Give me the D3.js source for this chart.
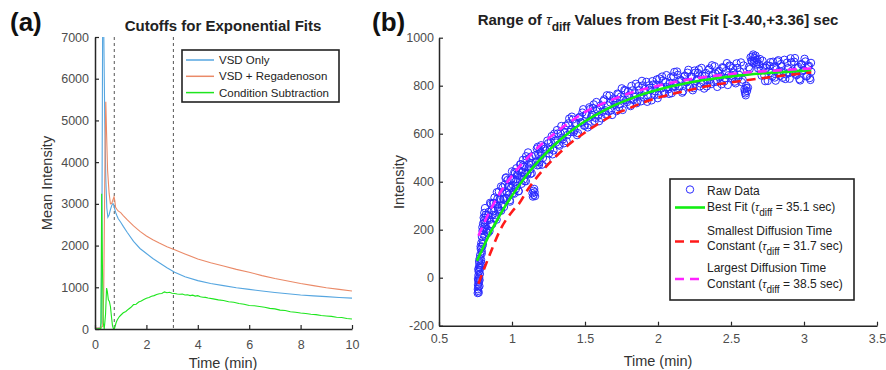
<!DOCTYPE html>
<html>
<head>
<meta charset="utf-8">
<script src="https://cdn.jsdelivr.net/npm/d3@7"></script>
<style>
  body { margin: 0; background: #fff; }
  svg { display: block; font-family: Arial, "Liberation Sans", Helvetica, sans-serif; }
</style>
</head>
<body>
<svg id="chart" width="886" height="370"></svg>
<script>
// ---- panel (a) data: [time (min), mean intensity] ----
var vsdOnly = [
  [0,20],[0.1,15],[0.2,30],[0.24,150],[0.27,2500],[0.3,7800],[0.34,7200],[0.38,5000],[0.42,3600],
  [0.46,2900],[0.5,2680],[0.55,2740],[0.6,2860],[0.65,2960],[0.7,3010],[0.73,2980],[0.76,2900],
  [0.8,2800],[0.85,2720],[0.9,2650],[1.0,2560],[1.1,2460],[1.25,2320],[1.5,2100],[1.75,1930],
  [2.0,1810],[2.25,1690],[2.5,1590],[2.8,1470],[3.1,1360],[3.5,1250],[4.0,1160],[4.5,1090],
  [5.0,1040],[5.5,990],[6.0,950],[6.5,910],[7.0,875],[7.5,845],[8.0,815],[8.5,795],[9.0,775],
  [9.5,755],[10,740]
];
var vsdRegadenoson = [
  [0,25],[0.1,20],[0.2,30],[0.3,60],[0.34,900],[0.39,4200],[0.42,5450],[0.45,4700],[0.49,3800],
  [0.55,3250],[0.6,3000],[0.65,3010],[0.7,3100],[0.74,3170],[0.77,3080],[0.8,2920],[0.85,2870],
  [0.9,2830],[1.0,2790],[1.1,2720],[1.25,2620],[1.5,2470],[1.75,2340],[2.0,2230],[2.25,2140],
  [2.5,2060],[2.8,1970],[3.1,1900],[3.5,1800],[4.0,1680],[4.5,1590],[5.0,1510],[5.5,1430],
  [6.0,1360],[6.5,1280],[7.0,1210],[7.5,1150],[8.0,1090],[8.5,1040],[9.0,990],[9.5,950],[10,910]
];
var conditionSub = [
  [0,0],[0.1,5],[0.2,10],[0.23,0],[0.26,3240],[0.29,1500],[0.32,150],[0.36,0],[0.41,350],
  [0.45,980],[0.48,900],[0.52,700],[0.56,660],[0.6,540],[0.64,300],[0.68,80],[0.72,0],[0.75,0],
  [0.78,60],[0.82,150],[0.86,210],[0.9,250],[0.95,300],[1.0,330],[1.1,390],[1.2,420],[1.3,475],
  [1.4,520],[1.5,585],[1.6,595],[1.7,645],[1.8,670],[1.9,705],[2.0,735],[2.1,755],[2.2,785],
  [2.3,800],[2.4,825],[2.5,845],[2.6,850],[2.7,890],[2.8,868],[2.9,882],[3.0,858],[3.1,852],
  [3.2,840],[3.3,832],[3.4,838],[3.5,815],[3.6,822],[3.7,800],[3.8,812],[3.9,788],[4.0,800],
  [4.1,772],[4.2,762],[4.3,758],[4.4,742],[4.6,722],[4.8,698],[5.0,684],[5.2,652],[5.4,642],
  [5.6,612],[5.8,594],[6.0,562],[6.2,556],[6.4,538],[6.6,522],[6.8,494],[7.0,482],[7.2,452],
  [7.4,444],[7.6,412],[7.8,402],[8.0,384],[8.2,372],[8.4,352],[8.6,344],[8.8,322],[9.0,312],
  [9.2,302],[9.4,282],[9.6,274],[9.8,252],[10,240]
];
var cutoffs = [0.75, 3.05];
var seriesA = [
  { name: "VSD Only", data: vsdOnly, color: "#56a6e0" },
  { name: "VSD + Regadenoson", data: vsdRegadenoson, color: "#ea8a68" },
  { name: "Condition Subtraction", data: conditionSub, color: "#1ee61e" }
];
var xTicksA = [0, 2, 4, 6, 8, 10];
var yTicksA = [0, 1000, 2000, 3000, 4000, 5000, 6000, 7000];

// ---- panel (b) data: [time (min), intensity] ----
var rawData = [
  [0.765,-64],[0.766,-48],[0.767,-30],[0.768,-55],[0.769,-12],[0.770,10],[0.771,-40],[0.772,25],[0.773,-20],[0.774,45],
  [0.775,0],[0.776,60],[0.777,-35],[0.778,30],[0.779,80],[0.780,15],[0.782,95],[0.784,50],[0.786,120],[0.788,75],
  [0.790,145],[0.792,100],[0.794,170],[0.796,130],[0.798,195],[0.800,155],[0.802,225],[0.804,180],[0.806,250],[0.808,205],
  [0.810,270],[0.812,230],[0.815,290],[0.818,250],
  [0.767,-5],[0.769,35],[0.772,-62],[0.775,70],[0.778,-10],[0.781,40],[0.785,130],[0.789,60],[0.793,110],[0.797,210],
  [0.801,140],[0.805,195],[0.809,240],[0.813,175],[0.817,220],
  [0.820,262],[0.825,203],[0.830,239],[0.835,186],[0.840,274],[0.845,241],[0.850,312],[0.855,222],[0.860,281],[0.865,223],
  [0.870,310],[0.875,277],[0.880,334],[0.885,261],[0.890,307],[0.895,242],[0.900,328],[0.905,293],[0.910,359],[0.915,278],
  [0.920,326],[0.925,380],[0.930,299],[0.935,354],[0.940,328],[0.945,295],[0.950,387],[0.955,333],[0.960,418],[0.965,356],
  [0.970,407],[0.975,345],[0.980,379],[0.985,323],[0.990,408],[0.995,374],[1.000,443],[1.005,352],[1.010,409],[1.015,350],
  [1.020,435],[1.025,401],[1.030,456],[1.035,382],[1.040,426],[1.045,360],[1.050,444],[1.055,409],[1.060,473],[1.065,391],
  [1.070,439],[1.075,491],[1.080,409],[1.085,462],[1.090,436],[1.095,402],[1.100,492],[1.105,437],[1.110,522],[1.115,459],
  [1.120,499],[1.125,452],[1.130,478],[1.135,435],[1.140,352],[1.143,338],[1.146,362],[1.149,345],[1.152,370],[1.155,356],
  [1.158,340],[1.160,510],[1.165,484],[1.170,538],[1.175,468],[1.180,515],[1.185,470],[1.190,535],[1.195,509],[1.200,552],
  [0.826,192],[0.836,260],[0.846,194],[0.856,308],[0.866,261],[0.876,312],[0.886,248],[0.896,356],[0.906,285],[0.916,327],
  [0.926,279],[0.936,376],[0.946,329],[0.956,415],[0.966,331],[0.976,382],[0.986,317],[0.996,410],[1.006,386],[1.016,440],
  [1.026,369],[1.036,431],[1.046,361],[1.056,472],[1.066,422],[1.076,469],[1.086,402],[1.096,506],[1.106,433],[1.116,472],
  [1.126,432],[1.136,506],[1.166,480],[1.176,545],[1.186,481],[1.196,522],
  [1.212,499],[1.224,537],[1.236,490],[1.248,560],[1.260,536],[1.272,590],[1.284,530],[1.296,571],[1.308,615],[1.320,555],
  [1.332,601],[1.344,584],[1.356,560],[1.368,633],[1.380,595],[1.392,663],[1.404,617],[1.416,659],[1.428,614],[1.440,643],
  [1.452,602],[1.464,670],[1.476,646],[1.488,702],[1.500,634],[1.512,679],[1.524,636],[1.536,703],[1.548,678],[1.560,722],
  [1.572,666],[1.584,701],[1.596,652],[1.608,718],[1.620,692],[1.632,743],[1.644,680],[1.656,718],[1.668,759],[1.680,697],
  [1.692,739],[1.704,720],[1.716,694],[1.728,764],[1.740,723],[1.752,789],[1.764,741],[1.776,780],[1.788,732],[1.800,758],
  [1.812,715],[1.824,780],[1.836,754],[1.848,808],[1.860,737],[1.872,781],[1.884,735],[1.896,801],[1.908,774],[1.920,816],
  [1.932,758],[1.944,791],[1.956,739],[1.968,805],[1.980,777],[1.992,826],[2.004,762],[2.016,798],[2.028,838],[2.040,774],
  [2.052,815],[2.064,794],[2.076,766],[2.088,835],[2.100,793],[2.112,857],[2.124,807],[2.136,845],[2.148,797],[2.160,821],
  [2.172,777],[2.184,841],[2.196,814],[2.208,866],[2.220,794],[2.232,837],[2.244,790],[2.256,854],[2.268,827],[2.280,868],
  [2.292,809],[2.304,841],[2.316,788],[2.328,853],[2.340,824],[2.352,872],[2.364,807],[2.376,842],[2.388,881],[2.400,816],
  [2.412,856],[2.424,834],[2.436,806],[2.448,874],[2.460,831],[2.472,894],[2.484,844],[2.496,881],[2.508,831],[2.520,855],
  [2.532,810],[2.544,874],[2.556,845],[2.568,897],[2.580,825],[2.592,785],[2.598,768],[2.604,800],[2.610,778],[2.616,792],
  [2.628,869],[2.640,905],[2.648,922],[2.656,895],[2.664,915],[2.672,888],[2.680,908],[2.692,889],[2.704,864],[2.716,904],
  [2.728,843],[2.740,874],[2.752,820],[2.764,883],[2.776,853],[2.788,900],[2.800,834],[2.812,868],[2.824,906],[2.836,841],
  [2.848,880],[2.860,857],[2.872,828],[2.884,896],[2.896,852],[2.908,914],[2.920,863],[2.932,900],[2.944,850],[2.956,873],
  [2.968,827],[2.980,890],[2.992,861],[3.004,912],[3.016,839],[3.028,880],[3.040,832],[3.048,895],[3.050,858],
  [1.206,471],[1.218,545],[1.230,529],[1.242,571],[1.254,518],[1.266,566],[1.278,514],[1.290,600],[1.302,563],[1.314,601],
  [1.326,550],[1.338,632],[1.350,577],[1.362,607],[1.374,569],[1.386,643],[1.398,607],[1.410,671],[1.422,606],[1.434,645],
  [1.446,594],[1.458,666],[1.470,648],[1.482,688],[1.494,633],[1.506,680],[1.518,626],[1.530,710],[1.542,670],[1.554,707],
  [1.566,653],[1.578,732],[1.590,675],[1.602,705],[1.614,664],[1.626,736],[1.638,698],[1.650,760],[1.662,693],[1.674,730],
  [1.686,678],[1.698,747],[1.710,728],[1.722,767],[1.734,710],[1.746,755],[1.758,699],[1.770,782],[1.782,741],[1.794,776],
  [1.806,721],[1.818,799],[1.830,741],[1.842,768],[1.854,727],[1.866,798],[1.878,758],[1.890,820],[1.902,751],[1.914,787],
  [1.926,733],[1.938,801],[1.950,781],[1.962,819],[1.974,761],[1.986,805],[1.998,748],[2.010,830],[2.022,788],[2.034,822],
  [2.046,767],[2.058,844],[2.070,785],[2.082,811],[2.094,769],[2.106,839],[2.118,798],[2.130,859],[2.142,790],[2.154,825],
  [2.166,771],[2.178,838],[2.190,817],[2.202,854],[2.214,796],[2.226,839],[2.238,781],[2.250,863],[2.262,820],[2.274,853],
  [2.286,797],[2.298,874],[2.310,814],[2.322,840],[2.334,797],[2.346,866],[2.358,825],[2.370,885],[2.382,815],[2.394,850],
  [2.406,795],[2.418,862],[2.430,840],[2.442,877],[2.454,818],[2.466,861],[2.478,803],[2.490,884],[2.502,841],[2.514,874],
  [2.526,817],[2.538,893],[2.550,833],[2.562,859],[2.574,815],[2.586,884],[2.595,775],[2.601,760],[2.607,790],[2.622,877],
  [2.634,918],[2.644,900],[2.652,930],[2.660,905],[2.668,925],[2.676,897],[2.686,872],[2.698,911],[2.710,842],[2.722,876],
  [2.734,819],[2.746,885],[2.758,862],[2.770,898],[2.782,838],[2.794,880],[2.806,821],[2.818,901],[2.830,857],[2.842,890],
  [2.854,833],[2.866,908],[2.878,847],[2.890,873],[2.902,829],[2.914,897],[2.926,856],[2.938,915],[2.950,844],[2.962,878],
  [2.974,822],[2.986,888],[2.998,865],[3.010,901],[3.022,841],[3.034,883],[3.044,824]
];
var bestFit = [
  [0.76,70],[0.8,123],[0.85,186],[0.9,242],[0.95,295],[1.0,342],[1.1,427],[1.2,498],[1.3,558],
  [1.4,609],[1.5,652],[1.6,687],[1.7,718],[1.8,743],[1.9,765],[2.0,783],[2.2,811],[2.4,831],
  [2.6,845],[2.8,855],[3.05,864]
];
var smallestFit = [
  [0.77,-25],[0.85,100],[0.92,200],[1.0,275],[1.05,310],[1.1,360],[1.2,440],[1.3,505],[1.4,560],
  [1.5,605],[1.6,645],[1.7,680],[1.8,705],[1.9,730],[2.0,750],[2.2,780],[2.4,805],[2.6,822],
  [2.8,838],[3.05,855]
];
var largestFit = [
  [0.77,175],[0.85,280],[0.92,355],[1.0,425],[1.1,495],[1.2,555],[1.3,605],[1.4,650],[1.5,690],
  [1.6,720],[1.7,745],[1.8,768],[1.9,785],[2.0,800],[2.2,825],[2.4,842],[2.6,855],[2.8,863],[3.05,872]
];
var xTicksB = [0.5, 1, 1.5, 2, 2.5, 3, 3.5];
var yTicksB = [-200, 0, 200, 400, 600, 800, 1000];

var svg = d3.select("#chart");
var axisColor = "#262626";
var tickColor = "#4d4d4d";

function styleAxis(g) {
  g.select(".domain").attr("stroke", axisColor).attr("stroke-width", 1.5);
  g.selectAll(".tick line").attr("stroke", axisColor).attr("stroke-width", 1.2);
  g.selectAll(".tick text").attr("fill", tickColor).attr("font-size", "12.5px");
}

// ================= panel (a) =================
var xA = d3.scaleLinear().domain([0, 10]).range([95, 352]);
var yA = d3.scaleLinear().domain([0, 7000]).range([329, 37]);

svg.append("defs").append("clipPath").attr("id", "clipA")
  .append("rect").attr("x", 95).attr("y", 37).attr("width", 257).attr("height", 292);

var lineA = d3.line().x(d => xA(d[0])).y(d => yA(d[1]));

var plotA = svg.append("g").attr("clip-path", "url(#clipA)");
plotA.selectAll(".cutoff")
  .data(cutoffs)
  .enter()
  .append("line")
  .attr("class", "cutoff")
  .attr("x1", d => xA(d)).attr("x2", d => xA(d))
  .attr("y1", yA(7000)).attr("y2", yA(0))
  .attr("stroke", "#555").attr("stroke-width", 1).attr("stroke-dasharray", "3,3");

plotA.selectAll(".seriesA")
  .data(seriesA)
  .enter()
  .append("path")
  .attr("class", "seriesA")
  .attr("fill", "none")
  .attr("stroke", d => d.color)
  .attr("stroke-width", 1.1)
  .attr("d", d => lineA(d.data));

svg.append("g")
  .attr("transform", "translate(0," + yA(0) + ")")
  .call(d3.axisBottom(xA).tickValues(xTicksA).tickSizeInner(-4).tickSizeOuter(0).tickPadding(11))
  .call(styleAxis);
svg.append("g")
  .attr("transform", "translate(" + xA(0) + ",0)")
  .call(d3.axisLeft(yA).tickValues(yTicksA).tickSizeInner(-4).tickSizeOuter(0).tickPadding(6).tickFormat(d3.format("d")))
  .call(styleAxis);

svg.append("text").attr("x", 223).attr("y", 368).attr("text-anchor", "middle")
  .attr("font-size", "14.5px").attr("fill", "#333").text("Time (min)");
svg.append("text").attr("transform", "translate(52,183) rotate(-90)").attr("text-anchor", "middle")
  .attr("font-size", "14.5px").attr("fill", "#333").text("Mean Intensity");
svg.append("text").attr("x", 223).attr("y", 31).attr("text-anchor", "middle")
  .attr("font-size", "15px").attr("font-weight", "bold").attr("fill", "#222").text("Cutoffs for Exponential Fits");
svg.append("text").attr("x", 10).attr("y", 31)
  .attr("font-size", "26px").attr("font-weight", "bold").attr("fill", "#111").text("(a)");

// legend (a)
var legA = svg.append("g");
legA.append("rect").attr("x", 182).attr("y", 50).attr("width", 157).attr("height", 52)
  .attr("fill", "#fff").attr("stroke", "#222").attr("stroke-width", 1.6);
legA.selectAll(".legline")
  .data(seriesA)
  .enter()
  .append("line")
  .attr("x1", 186).attr("x2", 214)
  .attr("y1", (d, i) => 60 + i * 16.3).attr("y2", (d, i) => 60 + i * 16.3)
  .attr("stroke", d => d.color).attr("stroke-width", 1.5);
legA.selectAll(".legtext")
  .data(seriesA)
  .enter()
  .append("text")
  .attr("x", 219).attr("y", (d, i) => 64 + i * 16.3)
  .attr("font-size", "11.5px").attr("fill", "#222")
  .text(d => d.name);

// ================= panel (b) =================
var xB = d3.scaleLinear().domain([0.5, 3.5]).range([439, 877]);
var yB = d3.scaleLinear().domain([-200, 1000]).range([325.7, 37.7]);
var lineB = d3.line().x(d => xB(d[0])).y(d => yB(d[1])).curve(d3.curveMonotoneX);

svg.append("g").selectAll("circle")
  .data(rawData)
  .enter()
  .append("circle")
  .attr("cx", d => xB(d[0]))
  .attr("cy", d => yB(d[1]))
  .attr("r", 3.7)
  .attr("fill", "none")
  .attr("stroke", "#2a2aff")
  .attr("stroke-width", 1);

var fits = [
  { data: bestFit, color: "#12ee12", dash: null },
  { data: smallestFit, color: "#ff1a1a", dash: "9,6" },
  { data: largestFit, color: "#ff22ff", dash: "9,6" }
];
svg.append("g").selectAll("path")
  .data(fits)
  .enter()
  .append("path")
  .attr("fill", "none")
  .attr("stroke", d => d.color)
  .attr("stroke-width", 2.6)
  .attr("stroke-dasharray", d => d.dash)
  .attr("d", d => lineB(d.data));

svg.append("g")
  .attr("transform", "translate(0," + yB(-200) + ")")
  .call(d3.axisBottom(xB).tickValues(xTicksB).tickSizeInner(-4).tickSizeOuter(0).tickPadding(8.5).tickFormat(d3.format("~g")))
  .call(styleAxis);
svg.append("g")
  .attr("transform", "translate(" + xB(0.5) + ",0)")
  .call(d3.axisLeft(yB).tickValues(yTicksB).tickSizeInner(-4).tickSizeOuter(0).tickPadding(5).tickFormat(d => String(d)))
  .call(styleAxis);

svg.append("text").attr("x", 658).attr("y", 366).attr("text-anchor", "middle")
  .attr("font-size", "14.5px").attr("fill", "#333").text("Time (min)");
svg.append("text").attr("transform", "translate(404,182) rotate(-90)").attr("text-anchor", "middle")
  .attr("font-size", "14.5px").attr("fill", "#333").text("Intensity");

var titleB = svg.append("text").attr("x", 658).attr("y", 25).attr("text-anchor", "middle")
  .attr("font-size", "15px").attr("font-weight", "bold").attr("fill", "#222");
titleB.append("tspan").text("Range of ");
titleB.append("tspan").attr("font-weight", "normal").attr("font-style", "italic").text("τ");
titleB.append("tspan").attr("font-size", "12px").attr("dy", 6).text("diff");
titleB.append("tspan").attr("dy", -6).text(" Values from Best Fit [-3.40,+3.36] sec");

svg.append("text").attr("x", 372).attr("y", 31)
  .attr("font-size", "26px").attr("font-weight", "bold").attr("fill", "#111").text("(b)");

// legend (b)
var legB = svg.append("g");
legB.append("rect").attr("x", 670).attr("y", 179).attr("width", 184).attr("height", 121)
  .attr("fill", "#fff").attr("stroke", "#222").attr("stroke-width", 1.6);
legB.append("circle").attr("cx", 690).attr("cy", 189.5).attr("r", 3.7)
  .attr("fill", "none").attr("stroke", "#2a2aff").attr("stroke-width", 1);
legB.append("line").attr("x1", 675).attr("x2", 705).attr("y1", 207.5).attr("y2", 207.5)
  .attr("stroke", "#12ee12").attr("stroke-width", 2.6);
legB.append("line").attr("x1", 675).attr("x2", 705).attr("y1", 241.5).attr("y2", 241.5)
  .attr("stroke", "#ff1a1a").attr("stroke-width", 2.6).attr("stroke-dasharray", "9,6");
legB.append("line").attr("x1", 675).attr("x2", 705).attr("y1", 279).attr("y2", 279)
  .attr("stroke", "#ff22ff").attr("stroke-width", 2.6).attr("stroke-dasharray", "9,6");

var legRows = [
  { y: 195, parts: ["Raw Data"] },
  { y: 211, parts: ["Best Fit (", "τ", "diff", " = 35.1 sec)"] },
  { y: 235, parts: ["Smallest Diffusion Time"] },
  { y: 250, parts: ["Constant (", "τ", "diff", " = 31.7 sec)"] },
  { y: 272, parts: ["Largest Diffusion Time"] },
  { y: 288, parts: ["Constant (", "τ", "diff", " = 38.5 sec)"] }
];
legRows.forEach(function(row) {
  var t = legB.append("text").attr("x", 707).attr("y", row.y)
    .attr("font-size", "12px").attr("fill", "#222");
  if (row.parts.length === 1) {
    t.text(row.parts[0]);
    return;
  }
  t.append("tspan").text(row.parts[0]);
  t.append("tspan").attr("font-style", "italic").attr("font-size", "11px").text(row.parts[1]);
  t.append("tspan").attr("font-size", "10px").attr("dy", 5).text(row.parts[2]);
  t.append("tspan").attr("dy", -5).text(row.parts[3]);
});
</script>
</body>
</html>
